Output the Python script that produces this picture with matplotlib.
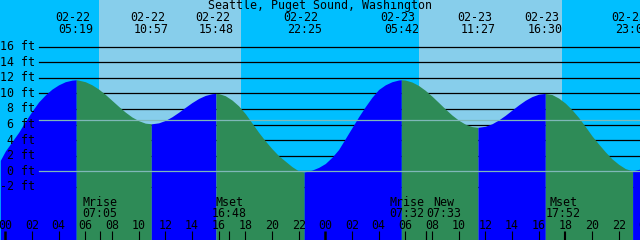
import matplotlib
matplotlib.use("Agg")
import matplotlib.pyplot as plt
import numpy as np

station = "Seattle, Puget Sound, Washington"

# hours since 02-22 00:00, tide height in ft
hours = [-0.375, 0, 0.5, 1, 1.5, 2, 2.5, 3, 3.5, 4, 4.5, 5, 5.317,
         5.5, 6, 6.5, 7, 7.5, 8, 8.5, 9, 9.5, 10, 10.5, 10.95,
         11, 11.5, 12, 12.5, 13, 13.5, 14, 14.5, 15, 15.5, 15.8,
         16, 16.5, 17, 17.5, 18, 18.5, 19, 19.5, 20, 20.5, 21, 21.5, 22, 22.417,
         23, 23.5, 24, 24.5, 25, 25.5, 26, 26.5, 27, 27.5, 28, 28.5, 29, 29.5, 29.7,
         30, 30.5, 31, 31.5, 32, 32.5, 33, 33.5, 34, 34.5, 35, 35.45,
         36, 36.5, 37, 37.5, 38, 38.5, 39, 39.5, 40, 40.5,
         41, 41.5, 42, 42.5, 43, 43.5, 44, 44.5, 45, 45.5, 46, 46.5, 47, 47.05, 47.625]
heights = [1.4, 2.6, 3.8, 5.0, 6.4, 7.7, 8.9, 9.8, 10.55, 11.1, 11.5, 11.7, 11.75,
           11.7, 11.5, 11.1, 10.55, 9.87, 9.1, 8.33, 7.6, 6.97, 6.5, 6.18, 6.1,
           6.1, 6.22, 6.53, 7.0, 7.58, 8.21, 8.82, 9.35, 9.74, 9.96, 10.0,
           9.98, 9.7, 9.15, 8.4, 7.4, 6.2, 5.0, 3.9, 2.9, 2.0, 1.3, 0.6, 0.05, -0.1,
           0.15, 0.5, 1.0, 1.8, 2.8, 4.2, 5.6, 7.0, 8.3, 9.5, 10.5, 11.1, 11.5, 11.72, 11.75,
           11.71, 11.46, 11.01, 10.39, 9.64, 8.83, 8.0, 7.22, 6.56, 6.05, 5.74, 5.65,
           5.78, 6.1, 6.59, 7.19, 7.86, 8.52, 9.12, 9.59, 9.9, 10.0,
           9.85, 9.4, 8.75, 7.9, 6.9, 5.75, 4.55, 3.5, 2.5, 1.6, 0.9, 0.35, 0.08, 0.05, 0.3]

tide_dates = ["02-22", "02-22", "02-22", "02-22", "02-23", "02-23", "02-23", "02-23"]
tide_clock = ["05:19", "10:57", "15:48", "22:25", "05:42", "11:27", "16:30", "23:03"]

sunrise = [7.03, 31.03]
sunset = [17.67, 41.73]

moon_names = ["Mrise", "Mset", "Mrise", "New", "Mset"]
moon_clock = ["07:05", "16:48", "07:32", "07:33", "17:52"]
moon_day = [0, 0, 1, 1, 1]

levels = [-2, 0, 2, 4, 6, 8, 10, 12, 14, 16]
msl = 6.6
datum = 0

night = "#00BFFF"
day = "#87CEEB"
rise_col = "#0000FF"
fall_col = "#2E8B57"
mark_col = "#7FB8B8"

W, H = 640, 240
pph = W / 48.0          # pixels per hour
x0 = 5.3                # pixel of 02-22 00:00
y0 = 171.3              # pixel of 0 ft
ppf = 7.79              # pixels per foot


def to_h(day_i, s):
    hh, mm = s.split(":")
    return day_i * 24 + int(hh) + int(mm) / 60.0


def yfrac(py):
    return 1 - py / H


fig = plt.figure(figsize=(W / 100, H / 100), dpi=100)
ax = fig.add_axes([0, 0, 1, 1])
ax.set_xlim(-x0 / pph, (W - x0) / pph)
ax.set_ylim((y0 - H) / ppf, y0 / ppf)
ax.axis("off")
fig.patch.set_facecolor(night)
ax.add_patch(plt.Rectangle((0, 0), 1, 1, transform=ax.transAxes, color=night, zorder=0))

for a, b in zip(sunrise, sunset):
    ax.axvspan(a, b, color=day, lw=0, zorder=0.5)

for lv in levels:
    ax.axhline(lv, xmin=39 / W, xmax=1, color="black", lw=0.9, zorder=1)

t = np.array(hours)
h = np.array(heights)
ext = [to_h(int(d[-2:]) - 22, c) for d, c in zip(tide_dates, tide_clock)]
bounds = [t[0]] + ext + [t[-1]]
bottom = ax.get_ylim()[0]
for a, b in zip(bounds[:-1], bounds[1:]):
    m = (t >= a - 0.01) & (t <= b + 0.01)
    up = np.interp(b, t, h) > np.interp(a, t, h)
    ax.fill_between(t[m], h[m], bottom, color=rise_col if up else fall_col,
                    lw=0, zorder=2)

for lv in [datum, msl]:
    ax.axhline(lv, xmin=39 / W, xmax=1, color=mark_col, lw=0.9, zorder=3)

font = dict(family="DejaVu Sans Mono", fontsize=8.4, color="black")
tr = ax.get_xaxis_transform()

ax.text(0.5, yfrac(5.2), station, transform=ax.transAxes, ha="center", va="center", **font)
for x, d, c in zip(ext, tide_dates, tide_clock):
    ax.text(x - 3.5 / pph, yfrac(17.2), d, transform=tr, ha="center", va="center", **font)
    ax.text(x, yfrac(29.5), c, transform=tr, ha="center", va="center", **font)

for lv in levels:
    ax.text(35 / W, yfrac(y0 - lv * ppf), "%d ft" % lv, transform=ax.transAxes,
            ha="right", va="center", zorder=5, **font)

# hour ticks and labels
for hr in range(0, 49, 2):
    ax.text(hr, yfrac(225.7), "%02d" % (hr % 24), transform=tr,
            ha="center", va="center", zorder=5, **font)
    ax.plot([hr, hr], [yfrac(231), yfrac(240)], transform=tr, color="black",
            lw=1.8 if hr % 24 == 0 else 0.8, zorder=5, solid_capstyle="butt")

moon_align = ["center", "center", "right", "left", "center"]
moon_shift = [0, 0, -1.5, 0.5, 0]
for name, c, dd, al, sh in zip(moon_names, moon_clock, moon_day, moon_align, moon_shift):
    x = to_h(dd, c)
    ax.plot([x, x], [yfrac(231), yfrac(240)], transform=tr, color="black", lw=0.8,
            zorder=5, solid_capstyle="butt")
    xs = x + sh / pph
    if al == "left":
        ax.text(xs + 17.5 / pph, yfrac(202), name, transform=tr, ha="center", va="center", **font)
        ax.text(xs, yfrac(213.5), c, transform=tr, ha="left", va="center", **font)
    else:
        ax.text(xs, yfrac(202), name, transform=tr, ha=al, va="center", **font)
        ax.text(xs, yfrac(213.5), c, transform=tr, ha=al, va="center", **font)

fig.savefig("out.png", dpi=100, facecolor=night)
